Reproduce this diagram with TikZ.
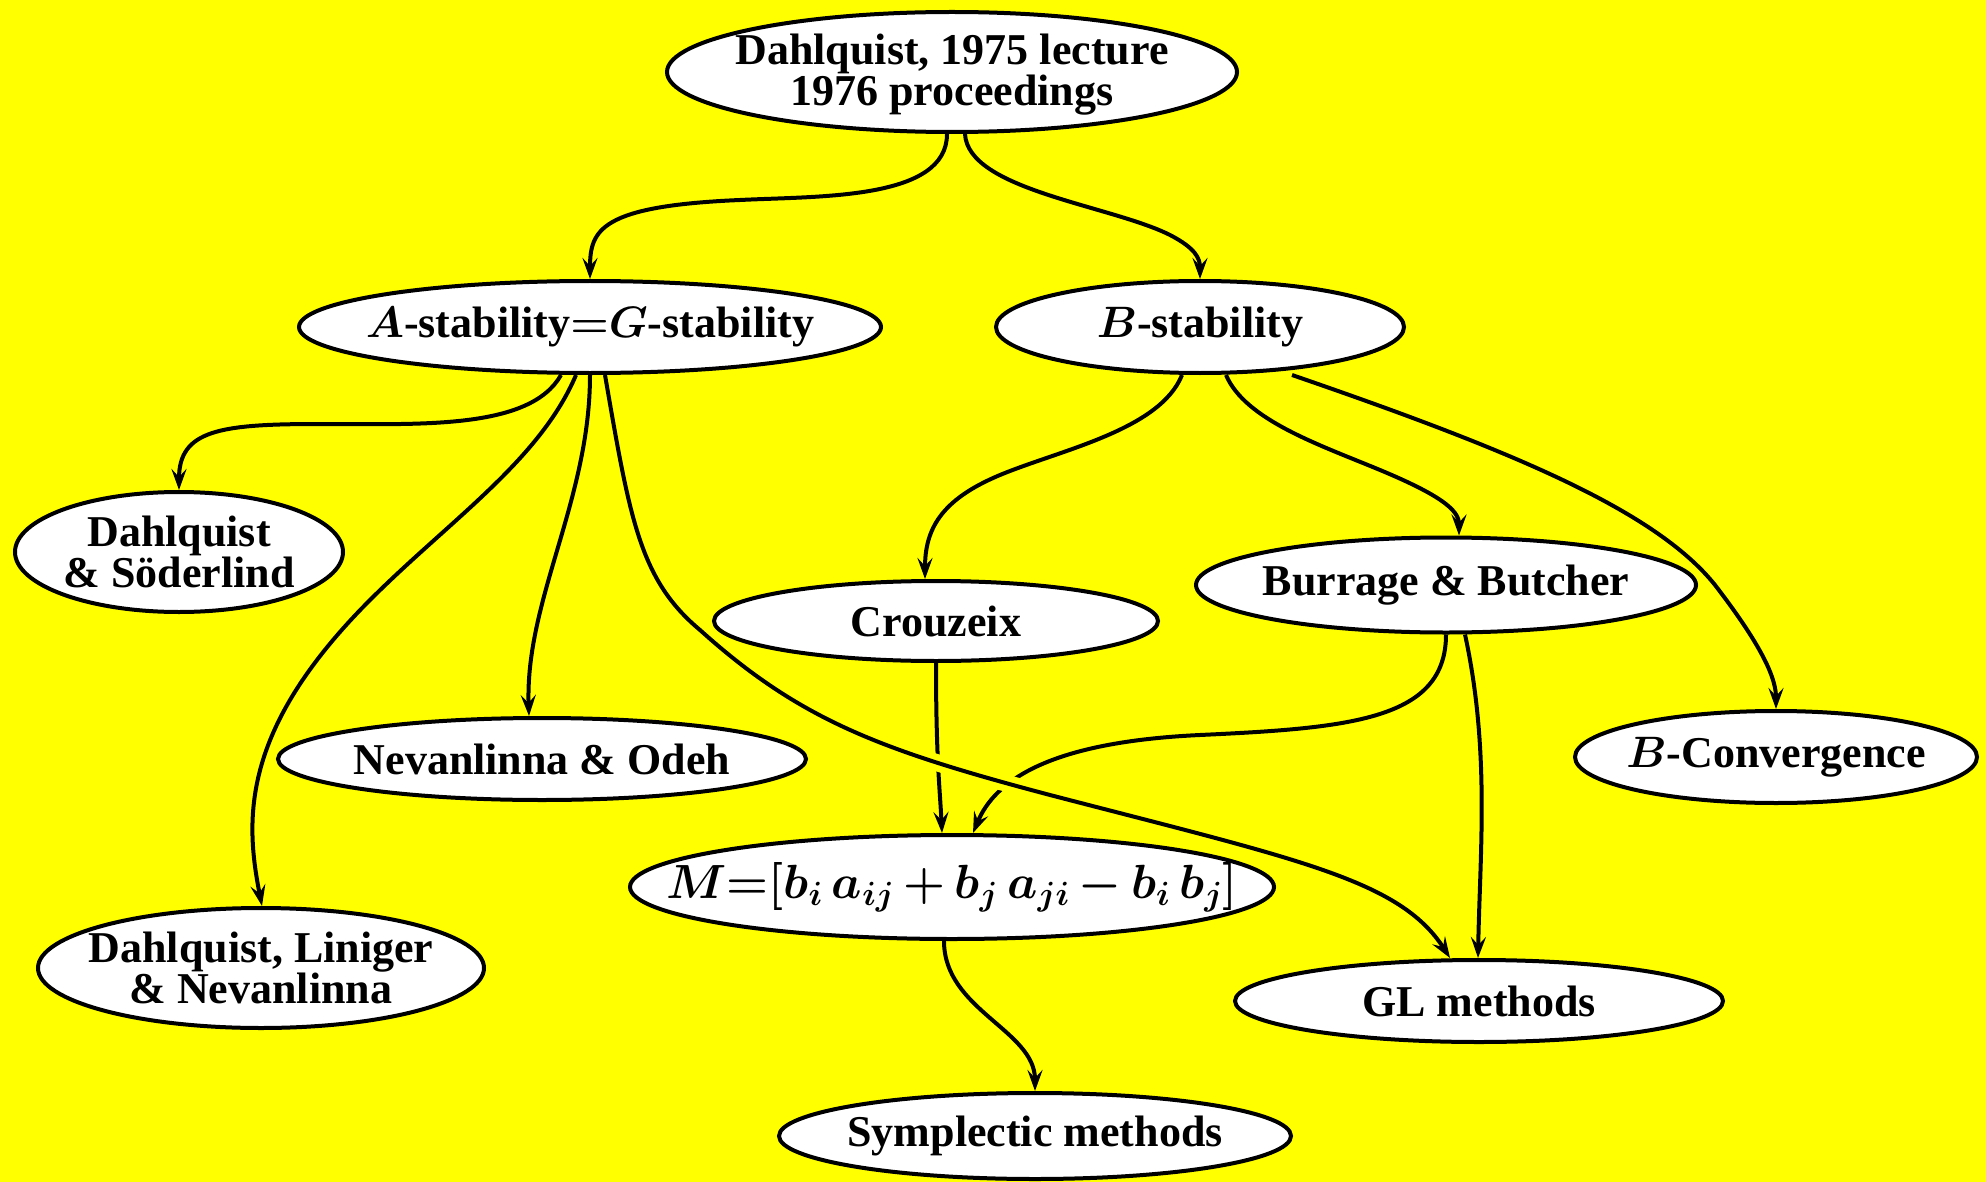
\RequirePackage{fix-cm}
\documentclass[tikz,border=0pt]{standalone}
\usepackage{fontspec}
\setmainfont{Liberation Serif}
\usetikzlibrary{shapes.geometric,arrows.meta}
\definecolor{bgyellow}{RGB}{255,255,0}
\tikzset{
  nd/.style={ellipse, draw=black, fill=white, line width=4pt, inner sep=0pt},
  lbl/.style={align=center, inner sep=0pt, font=\fontsize{44}{41}\selectfont\bfseries\boldmath},
  edge/.style={line width=4pt, -{Stealth[length=21pt,width=15pt,inset=8pt]}},
}
\begin{document}
\begin{tikzpicture}[x=1pt,y=-1pt]
\fill[bgyellow] (0,0) rectangle (1986,1182);
\useasboundingbox (0,0) rectangle (1986,1182);

\node[nd, minimum width=570, minimum height=120, label={[lbl, yshift=-3pt]center:Dahlquist, 1975 lecture\\1976 proceedings}] (top) at (952,72) {};
\node[nd, minimum width=582, minimum height=92, label={[lbl]center:$A$-stability$=$$G$-stability}] (A) at (590,327) {};
\node[nd, minimum width=408, minimum height=92, label={[lbl]center:$B$-stability}] (B) at (1200,327) {};
\node[nd, minimum width=328, minimum height=120, label={[lbl]center:Dahlquist\\\& Söderlind}] (DS) at (179,552) {};
\node[nd, minimum width=444, minimum height=80, label={[lbl]center:Crouzeix}] (C) at (936,621) {};
\node[nd, minimum width=500, minimum height=95, label={[lbl]center:Burrage \& Butcher}] (BB) at (1446,585) {};
\node[nd, minimum width=528, minimum height=82, label={[lbl]center:Nevanlinna \& Odeh}] (NO) at (542,759) {};
\node[nd, minimum width=402, minimum height=92, label={[lbl]center:$B$-Convergence}] (BC) at (1776,757) {};
\node[nd, minimum width=644, minimum height=104, label={[lbl, font=\fontsize{48}{48}\selectfont\boldmath]center:$M{=}[b_i\,a_{ij}\,{+}\,b_j\,a_{ji}\,{-}\,b_i\,b_j]$}] (M) at (952,887) {};
\node[nd, minimum width=446, minimum height=120, label={[lbl]center:Dahlquist, Liniger\\\& Nevanlinna}] (DLN) at (261,968) {};
\node[nd, minimum width=488, minimum height=82, label={[lbl]center:GL methods}] (GL) at (1479,1001) {};
\node[nd, minimum width=512, minimum height=86, label={[lbl]center:Symplectic methods}] (S) at (1035,1136) {};

% top -> A, B
\draw[edge] ([xshift=-5]top.south) .. controls (947,200) and (820,196) .. (740,200) .. controls (600,206) and (590,230) .. (A.north);
\draw[edge] ([xshift=13]top.south) .. controls (968,190) and (1110,205) .. (1170,235) .. controls (1195,248) and (1200,258) .. (B.north);
% A -> ...
\draw[edge] ([xshift=-29]A.south) .. controls (530,430) and (420,424) .. (320,424) .. controls (220,424) and (179,430) .. (DS.north);
\draw[edge] ([xshift=-14]A.south) .. controls (540,460) and (450,520) .. (370,600) .. controls (240,730) and (245,820) .. ([xshift=1]DLN.north);
\draw[edge] (A.south) .. controls (590,500) and (525,600) .. ([xshift=-13]NO.north);
% B -> ...
\draw[edge] ([xshift=-18]B.south) .. controls (1160,430) and (1060,450) .. (1000,475) .. controls (940,500) and (925,530) .. ([xshift=-11]C.north);
\draw[edge] ([xshift=26]B.south) .. controls (1245,420) and (1320,445) .. (1380,470) .. controls (1440,495) and (1459,510) .. ([xshift=13]BB.north);
\draw[edge] ([xshift=92]B.south) .. controls (1510,450) and (1655,510) .. (1715,585) .. controls (1765,650) and (1776,680) .. (BC.north);
% to M
\draw[edge] (C.south) .. controls (936,760) and (940,790) .. ([xshift=-10]M.north);
\draw[edge] (BB.south) .. controls (1446,720) and (1350,728) .. (1200,735) .. controls (1050,742) and (995,780) .. ([xshift=21]M.north);
\draw[edge] ([xshift=19]BB.south) .. controls (1490,750) and (1480,850) .. ([xshift=-1]GL.north);
% A -> GL with gap
\begin{scope}
\clip (860,700) rectangle (1090,805);
\draw[bgyellow, line width=17pt] ([xshift=15]A.south) .. controls (630,520) and (640,580) .. (700,630) .. controls (800,720) and (880,750) .. (1050,795) .. controls (1300,860) and (1400,880) .. ([xshift=-29]GL.north);
\end{scope}
\draw[edge] ([xshift=15]A.south) .. controls (630,520) and (640,580) .. (700,630) .. controls (800,720) and (880,750) .. (1050,795) .. controls (1300,860) and (1400,880) .. ([xshift=-29]GL.north);
% M -> S
\draw[edge] ([xshift=-8]M.south) .. controls (944,1010) and (1035,1030) .. (S.north);
\end{tikzpicture}
\end{document}
